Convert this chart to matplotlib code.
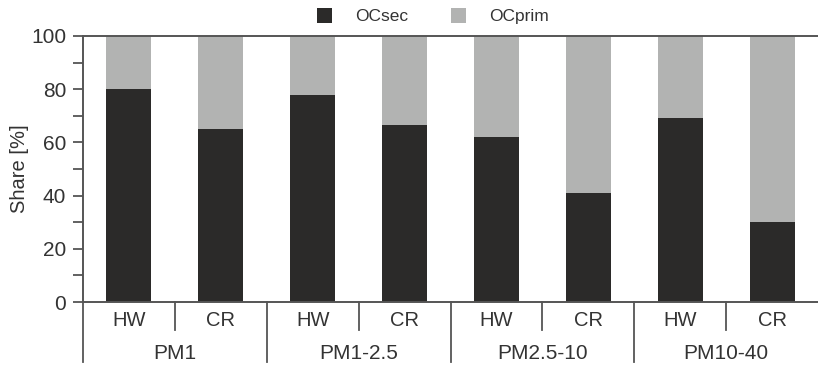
import matplotlib.pyplot as plt
import numpy as np

plt.rcParams['font.family'] = ['Liberation Sans', 'DejaVu Sans']

groups = ['PM1', 'PM1-2.5', 'PM2.5-10', 'PM10-40']
seasons = ['HW', 'CR']
ocsec = [80, 65, 78, 66.5, 62, 41, 69, 30]
ocprim = [100 - v for v in ocsec]

dark = '#2b2a29'
light = '#b2b3b2'
line_col = '#555555'

fig = plt.figure(figsize=(8.18, 3.67), dpi=100)
ax = fig.add_axes([0.1015, 0.177, 0.8985, 0.725])

x = np.arange(len(ocsec))
b1 = ax.bar(x, ocsec, width=0.49, color=dark, label='OCsec')
b2 = ax.bar(x, ocprim, width=0.49, bottom=ocsec, color=light, label='OCprim')

ax.set_xlim(-0.5, 7.5)
ax.set_ylim(0, 100)
ax.set_yticks(range(0, 101, 20))
ax.set_yticks(range(10, 100, 20), minor=True)
ax.tick_params(axis='y', which='both', direction='out', length=7, width=1.3,
               color=line_col, labelsize=15, pad=5, labelcolor='#333333')
ax.set_xticks([])
for s in ['left', 'top', 'bottom']:
    ax.spines[s].set_color(line_col)
    ax.spines[s].set_linewidth(1.4)
ax.spines['right'].set_visible(False)
ax.set_ylabel('Share [%]', fontsize=14.5, color='#333333')
ax.yaxis.set_label_coords(-0.074, 0.5)

# two-level category axis below the bars
trans = ax.get_xaxis_transform()
for i in range(len(groups)):
    gx = 2 * i - 0.5
    ax.plot([gx, gx], [0, -0.226], transform=trans, color=line_col, lw=1.3, clip_on=False)
    ax.plot([gx + 1, gx + 1], [0, -0.105], transform=trans, color=line_col, lw=1.3, clip_on=False)
    for j, s in enumerate(seasons):
        ax.text(2 * i + j, -0.068, s, transform=trans, ha='center', va='center',
                fontsize=14.5, color='#333333')
    ax.text(2 * i + 0.5, -0.192, groups[i], transform=trans, ha='center', va='center',
            fontsize=15, color='#333333')

fig.legend(handles=[b1, b2], loc='upper center', bbox_to_anchor=(0.529, 1.02), ncol=2,
           frameon=False, fontsize=12.5, handlelength=0.9, handleheight=0.9,
           columnspacing=2.45, handletextpad=1.3, labelcolor='#333333')

fig.savefig('out.png', dpi=100)
